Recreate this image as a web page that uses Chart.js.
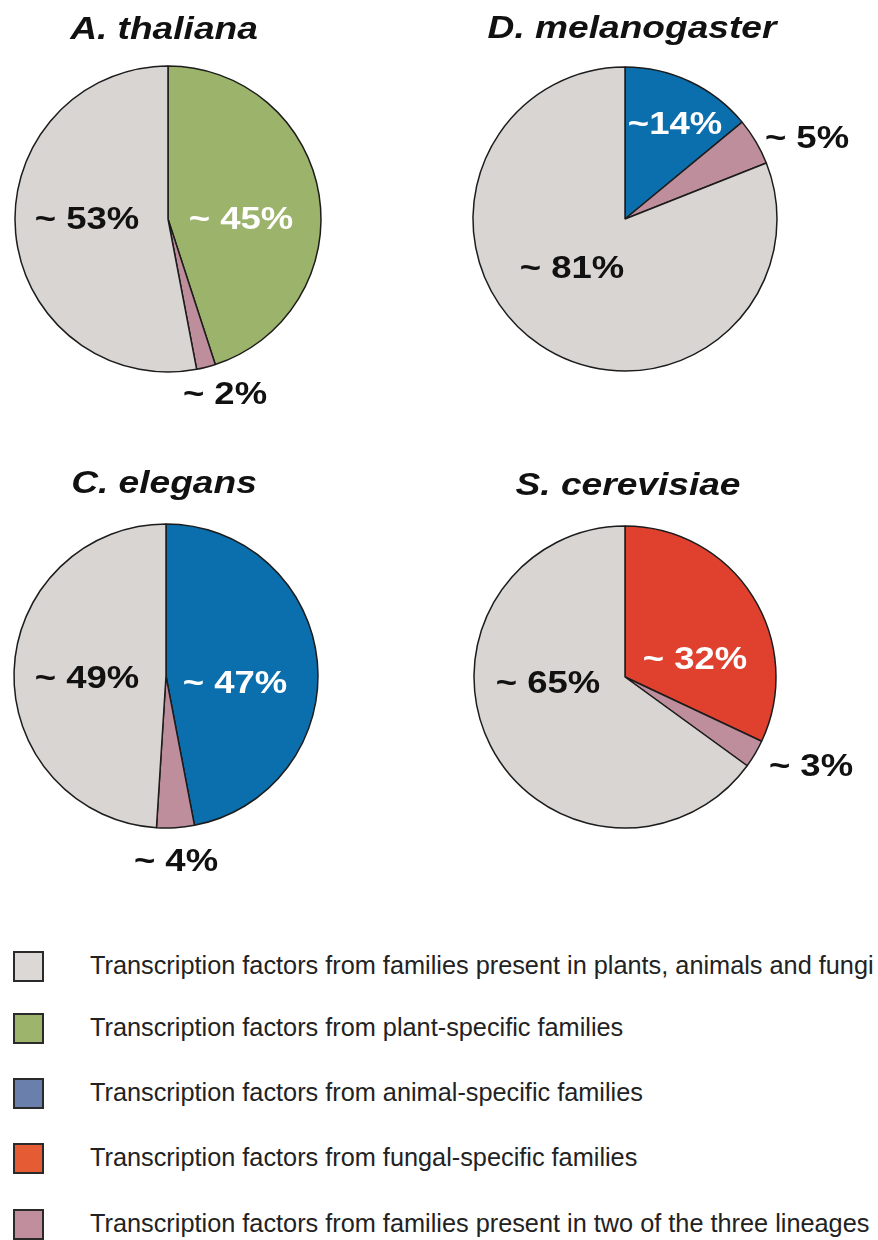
<!DOCTYPE html>
<html>
<head>
<meta charset="utf-8">
<script src="https://cdn.jsdelivr.net/npm/chart.js@4/dist/chart.umd.min.js"></script>
<style>
  body { margin: 0; background: #fff; width: 878px; height: 1240px; overflow: hidden; position: relative; font-family: "Liberation Sans", Arial, sans-serif; }
  canvas { position: absolute; }
  .leg { position: absolute; left: 0; height: 34px; width: 878px; }
  .leg .box { position: absolute; left: 13px; top: 1px; width: 27px; height: 27px; border: 2px solid #2a2a2a; }
  .leg .txt { position: absolute; left: 90px; top: 0; line-height: 31px; font-size: 25.3px; color: #222; white-space: nowrap; }
</style>
</head>
<body>
<canvas id="thaliana" width="439" height="450" style="left:0;top:0"></canvas>
<canvas id="melanogaster" width="439" height="450" style="left:439px;top:0"></canvas>
<canvas id="elegans" width="439" height="450" style="left:0;top:450px"></canvas>
<canvas id="cerevisiae" width="439" height="450" style="left:439px;top:450px"></canvas>
<div id="legend"></div>

<script>
// legend categories
var categories = [
  'Transcription factors from families present in plants, animals and fungi',
  'Transcription factors from plant-specific families',
  'Transcription factors from animal-specific families',
  'Transcription factors from fungal-specific families',
  'Transcription factors from families present in two of the three lineages'
];
var sliceColors = ['#d9d5d3', '#9cb36b', '#0b6fad', '#e0412f', '#bf8e9d'];
var legendColors = ['#dcd8d6', '#9cb46c', '#6a7fab', '#e55c34', '#c18e9e'];

// each pie, clockwise from 12 o'clock
var thalianaCats = [1, 4, 0];
var thalianaValues = [45, 2, 53];
var thalianaLabels = ['~ 45%', '~ 2%', '~ 53%'];

var melanogasterCats = [2, 4, 0];
var melanogasterValues = [14, 5, 81];
var melanogasterLabels = ['~14%', '~ 5%', '~ 81%'];

var elegansCats = [2, 4, 0];
var elegansValues = [47, 4, 49];
var elegansLabels = ['~ 47%', '~ 4%', '~ 49%'];

var cerevisiaeCats = [3, 4, 0];
var cerevisiaeValues = [32, 3, 65];
var cerevisiaeLabels = ['~ 32%', '~ 3%', '~ 65%'];

// text drawn on top of each pie: title + slice labels (offsets from pie centre)
var pieText = {
  id: 'pieText',
  afterDraw: function(chart, args, opts) {
    var ctx = chart.ctx;
    var arcs = chart.getDatasetMeta(0).data;
    ctx.save();
    ctx.textAlign = 'center';
    ctx.textBaseline = 'alphabetic';
    ctx.fillStyle = '#111';
    ctx.font = 'italic bold 32px "Liberation Sans", Arial, sans-serif';
    ctx.save();
    ctx.translate(opts.titleX, opts.titleY);
    ctx.scale(1.16, 1);
    ctx.fillText(opts.title, 0, 0);
    ctx.restore();

    ctx.font = 'bold 32px "Liberation Sans", Arial, sans-serif';
    arcs.forEach(function(arc, i) {
      var off = opts.offsets[i];
      ctx.save();
      ctx.fillStyle = opts.colors[i];
      ctx.translate(arc.x + off[0], arc.y + off[1] + 11);
      ctx.scale(1.14, 1);
      ctx.fillText(opts.labels[i], 0, 0);
      ctx.restore();
    });
    ctx.restore();
  }
};

function makePie(id, cats, values, labels, setup) {
  var W = 439, H = 450, m = 3;
  var r = setup.radius;
  return new Chart(document.getElementById(id).getContext('2d'), {
    type: 'pie',
    data: {
      labels: cats.map(function(c) { return categories[c]; }),
      datasets: [{
        data: values,
        backgroundColor: cats.map(function(c) { return sliceColors[c]; }),
        borderColor: '#1c1c1c',
        borderWidth: 1.5
      }]
    },
    options: {
      responsive: false,
      animation: false,
      events: [],
      radius: r,
      layout: {
        padding: {
          left: setup.cx - r - m,
          right: W - setup.cx - r - m,
          top: setup.cy - r - m,
          bottom: H - setup.cy - r - m
        }
      },
      plugins: {
        legend: { display: false },
        tooltip: { enabled: false },
        pieText: {
          title: setup.title, titleX: setup.titleX, titleY: setup.titleY,
          labels: labels, offsets: setup.offsets, colors: setup.colors
        }
      }
    },
    plugins: [pieText]
  });
}

makePie('thaliana', thalianaCats, thalianaValues, thalianaLabels, {
  title: 'A. thaliana', titleX: 164, titleY: 39,
  cx: 168, cy: 219, radius: 153,
  offsets: [[73, -1], [57, 174], [-81, -1]],
  colors: ['#fff', '#111', '#111']
});
makePie('melanogaster', melanogasterCats, melanogasterValues, melanogasterLabels, {
  title: 'D. melanogaster', titleX: 193, titleY: 38,
  cx: 186, cy: 219, radius: 152,
  offsets: [[50, -96], [182, -82], [-53, 48]],
  colors: ['#fff', '#111', '#111']
});
makePie('elegans', elegansCats, elegansValues, elegansLabels, {
  title: 'C. elegans', titleX: 164, titleY: 43,
  cx: 166, cy: 226, radius: 152,
  offsets: [[69, 6], [10, 184], [-79, 1]],
  colors: ['#fff', '#111', '#111']
});
makePie('cerevisiae', cerevisiaeCats, cerevisiaeValues, cerevisiaeLabels, {
  title: 'S. cerevisiae', titleX: 189, titleY: 45,
  cx: 186, cy: 227, radius: 151,
  offsets: [[70, -19], [186, 88], [-77, 5]],
  colors: ['#fff', '#111', '#111']
});

// shared legend
var legendRows = [950, 1012, 1077, 1142, 1208];
var legend = document.getElementById('legend');
categories.forEach(function(name, i) {
  var row = document.createElement('div');
  row.className = 'leg';
  row.style.top = legendRows[i] + 'px';
  row.innerHTML = '<div class="box" style="background:' + legendColors[i] + '"></div><div class="txt"></div>';
  row.querySelector('.txt').textContent = name;
  legend.appendChild(row);
});
</script>
</body>
</html>
